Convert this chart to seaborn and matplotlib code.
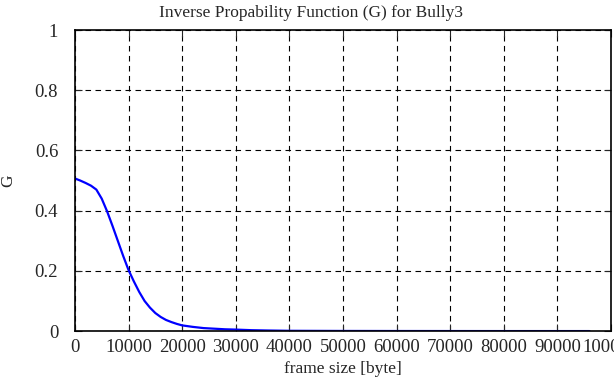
import matplotlib
matplotlib.use("Agg")
import matplotlib.pyplot as plt
import seaborn as sns
import pandas as pd

# values
frame_size = [0, 1000, 2000, 3000, 4000, 5000, 6000, 7000, 8000, 9000, 10000,
              11000, 12000, 13000, 14000, 15000, 16000, 17000, 18000, 19000,
              20000, 22000, 24000, 26000, 28000, 30000, 33000, 36000, 40000,
              50000, 60000, 70000, 80000, 90000, 96000]
g_values = [0.507, 0.500, 0.492, 0.483, 0.470, 0.440, 0.398, 0.350, 0.300, 0.250, 0.203,
            0.165, 0.130, 0.100, 0.078, 0.060, 0.047, 0.037, 0.030, 0.024,
            0.019, 0.014, 0.010, 0.008, 0.006, 0.005, 0.003, 0.002, 0.001,
            0.0005, 0.0003, 0.0002, 0.0001, 0.0001, 0.0001]

df = pd.DataFrame({"frame size": frame_size, "G": g_values})

sns.set_style("ticks")
plt.rcParams['font.family'] = ['Liberation Serif', 'DejaVu Serif']

fig = plt.figure(figsize=(6.14, 3.85), dpi=100)
ax = fig.add_axes([0.122, 0.140, 0.873, 0.782])

sns.lineplot(data=df, x="frame size", y="G", color="#0000ff", linewidth=1.6, ax=ax)

ax.set_xlim(0, 100000)
ax.set_ylim(0, 1)
ax.set_xticks(range(0, 100001, 10000))
ax.set_yticks([0, 0.2, 0.4, 0.6, 0.8, 1])
ax.set_yticklabels(["0", "0.2", "0.4", "0.6", "0.8", "1"])
ax.grid(True, color="black", linestyle=(0, (5, 4)), linewidth=0.8)
ax.tick_params(direction="in", top=True, right=True, labelsize=13.5, length=5, pad=6)
ax.tick_params(axis="y", pad=12)
for s in ax.spines.values():
    s.set_linewidth(1.2)
    s.set_color("black")

ax.set_xlabel("frame size [byte]", fontsize=12.5, labelpad=3)
ax.set_ylabel("G", fontsize=12.5, labelpad=13)
# gnuplot centres the title on the whole canvas
fig.suptitle("Inverse Propability Function (G) for Bully3", fontsize=12.5,
             x=0.507, y=0.955, va="baseline")

fig.savefig("out.png", dpi=100)
